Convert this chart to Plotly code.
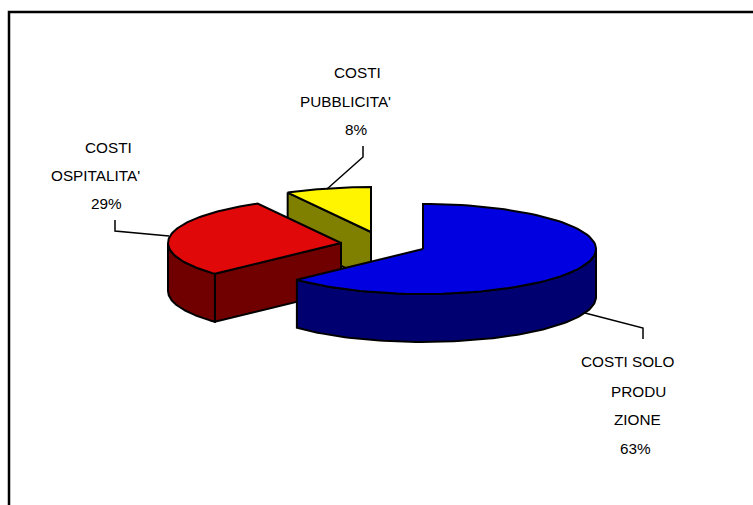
import numpy as np
import plotly.graph_objects as go

# ================================ Datos ================================
categories = ["COSTI SOLO PRODU ZIONE", "COSTI OSPITALITA'", "COSTI PUBBLICITA'"]
values = [63, 29, 8]
top_colors = ["#0000E0", "#E00808", "#FFF500"]
side_colors = ["#000070", "#700000", "#808000"]

label_lines = [
    ["COSTI SOLO", "PRODU", "ZIONE"],
    ["COSTI", "OSPITALITA'"],
    ["COSTI", "PUBBLICITA'"],
]

# ================================ Geometria del grafico ================================
W, H = 753, 505
RX, RY = 173, 45
DEPTH = 48
slice_centers = [(423, 249), (341, 243), (371, 232)]
label_x = [
    [628, 638, 637.5, 635],
    [108, 95, 106],
    [357, 345, 356],
]
label_y = [
    [361, 391, 419, 448],
    [147, 175, 203],
    [72, 101, 129],
]
leaders = [
    ([585, 643, 643], [313, 328, 339]),
    ([169, 115, 115], [236, 231, 220]),
    ([327, 363, 363], [189, 157, 146]),
]


def arc(cx, cy, start, end, n=90):
    # angulos en grados, desde arriba en sentido horario
    t = np.radians(np.linspace(start, end, n))
    return cx + RX * np.sin(t), cy - RY * np.cos(t)


def add_poly(fig, x, y, color):
    fig.add_trace(go.Scatter(
        x=list(x), y=list(y), mode='lines', fill='toself', fillcolor=color,
        line=dict(color='black', width=2), hoverinfo='skip', showlegend=False
    ))


def add_wall(fig, x, y, color):
    x = np.asarray(x)
    y = np.asarray(y)
    add_poly(fig, np.r_[x, x[::-1], x[0]], np.r_[y, y[::-1] + DEPTH, y[0]], color)


# ================================ Construccion ================================
fig = go.Figure()

edges = np.cumsum([0] + values) / sum(values) * 360
wedges = list(zip(edges[:-1], edges[1:]))

# de atras hacia delante: amarillo, rojo, azul
for i in [2, 1, 0]:
    cx, cy = slice_centers[i]
    start, end = wedges[i]

    # cara radial visible (la que mira hacia abajo)
    if i != 0:
        ex, ey = arc(cx, cy, start, start, 1)
        add_wall(fig, [ex[0], cx], [ey[0], cy], side_colors[i])

    # pared exterior
    lo, hi = max(start, 90), min(end, 270)
    if lo < hi:
        ax, ay = arc(cx, cy, lo, hi)
        add_wall(fig, ax, ay, side_colors[i])

    # tapa
    ax, ay = arc(cx, cy, start, end)
    add_poly(fig, np.r_[cx, ax, cx], np.r_[cy, ay, cy], top_colors[i])

# lineas guia
for lx, ly in leaders:
    fig.add_trace(go.Scatter(x=lx, y=ly, mode='lines', line=dict(color='black', width=1.5),
                             hoverinfo='skip', showlegend=False))

# marco: solo arriba y a la izquierda
fig.add_trace(go.Scatter(x=[9, 9, W], y=[H, 12, 12], mode='lines', line=dict(color='black', width=2.5),
                         hoverinfo='skip', showlegend=False))

# etiquetas
for i, lines in enumerate(label_lines):
    texts = lines + [f"{values[i]}%"]
    for text, tx, ty in zip(texts, label_x[i], label_y[i]):
        fig.add_annotation(x=tx, y=ty, text=text, showarrow=False, xanchor='center', yanchor='middle',
                           font=dict(family='Liberation Sans', size=15.3, color='black'))

fig.update_layout(
    width=W, height=H,
    margin=dict(t=0, b=0, l=0, r=0),
    paper_bgcolor='white', plot_bgcolor='white',
    xaxis=dict(range=[0, W], visible=False, fixedrange=True),
    yaxis=dict(range=[H, 0], visible=False, fixedrange=True),
)

fig.write_html("out.html", config=dict(displayModeBar=False),
               post_script="document.body.style.margin='0';")
